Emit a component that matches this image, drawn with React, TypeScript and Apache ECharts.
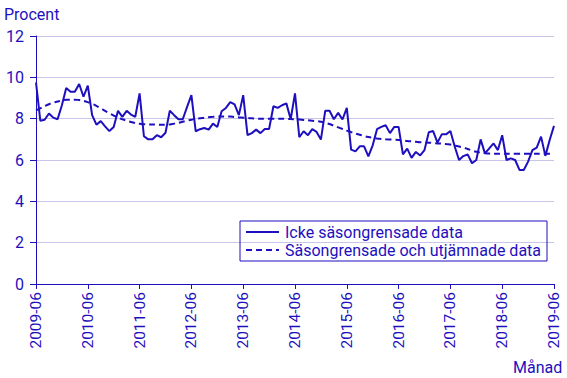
import React, { useEffect, useRef } from "react";
import * as echarts from "echarts";

const startYear = 2009;
const startMonth = 6;
const monthCount = 121;
const months: string[] = [];
for (let k = 0; k < monthCount; k++) {
  const m = startMonth - 1 + k;
  const y = startYear + Math.floor(m / 12);
  const mm = (m % 12) + 1;
  months.push(`${y}-${mm < 10 ? "0" + mm : mm}`);
}

const seriesNames = ["Icke säsongrensade data", "Säsongrensade och utjämnade data"];

const rawData = [
  9.75, 7.9, 7.95, 8.25, 8.05, 7.97, 8.65, 9.48, 9.3, 9.3, 9.68, 9.06,
  9.6, 8.17, 7.71, 7.88, 7.63, 7.4, 7.6, 8.38, 8.09, 8.38, 8.2, 8.09,
  9.22, 7.15, 7.0, 7.0, 7.2, 7.1, 7.32, 8.38, 8.17, 7.97, 7.97, 8.57,
  9.14, 7.39, 7.49, 7.55, 7.47, 7.76, 7.6, 8.36, 8.52, 8.8, 8.69, 8.17,
  9.14, 7.2, 7.3, 7.47, 7.3, 7.5, 7.5, 8.6, 8.52, 8.65, 8.74, 7.97,
  9.22, 7.1, 7.39, 7.2, 7.49, 7.36, 6.99, 8.38, 8.38, 7.97, 8.28, 7.96,
  8.52, 6.5, 6.42, 6.66, 6.66, 6.18, 6.71, 7.49, 7.6, 7.68, 7.3, 7.6,
  7.6, 6.27, 6.55, 6.1, 6.39, 6.22, 6.48, 7.34, 7.4, 6.84, 7.24, 7.24,
  7.4, 6.65, 6.0, 6.19, 6.27, 5.84, 6.0, 7.0, 6.32, 6.56, 6.8, 6.48,
  7.2, 6.0, 6.08, 6.0, 5.52, 5.52, 5.92, 6.48, 6.6, 7.13, 6.2, 6.97, 7.65,
];

const trendData = [
  8.4, 8.5, 8.6, 8.7, 8.77, 8.83, 8.88, 8.91, 8.92, 8.92, 8.9, 8.86,
  8.8, 8.72, 8.62, 8.5, 8.38, 8.26, 8.15, 8.05, 7.97, 7.9, 7.84, 7.79,
  7.75, 7.73, 7.72, 7.72, 7.71, 7.7, 7.7, 7.72, 7.76, 7.8, 7.85, 7.9,
  7.95, 7.99, 8.02, 8.05, 8.07, 8.09, 8.1, 8.1, 8.1, 8.1, 8.08, 8.06,
  8.05, 8.03, 8.02, 8.0, 8.0, 8.0, 8.0, 8.0, 8.0, 8.0, 7.99, 7.98,
  7.97, 7.96, 7.94, 7.92, 7.9, 7.88, 7.85, 7.8, 7.74, 7.66, 7.58, 7.5,
  7.42, 7.35, 7.28, 7.22, 7.16, 7.11, 7.07, 7.04, 7.02, 7.0, 6.99, 6.98,
  6.97, 6.95, 6.92, 6.9, 6.88, 6.86, 6.85, 6.84, 6.82, 6.8, 6.79, 6.77,
  6.75, 6.7, 6.65, 6.6, 6.53, 6.46, 6.4, 6.36, 6.33, 6.31, 6.3, 6.3,
  6.3, 6.3, 6.3, 6.3, 6.3, 6.3, 6.3, 6.3, 6.3, 6.3, 6.3, 6.3, 6.3,
];

const yTitle = "Procent";
const xTitle = "Månad";

const BLUE = "#1e0fbe";
const FONT = "Roboto";

export default function App() {
  const ref = useRef<HTMLDivElement>(null);
  useEffect(() => {
    if (!ref.current) return;
    document.body.style.margin = "0";
    const chart = echarts.init(ref.current, null, { renderer: "svg" });
    chart.setOption({
      animation: false,
      textStyle: { fontFamily: FONT },
      grid: { left: 36, right: 13, top: 36, bottom: 94, containLabel: false },
      graphic: [
        { type: "text", left: 4, top: 6, style: { text: yTitle, fill: BLUE, font: `16px ${FONT}` } },
        { type: "text", left: 513, top: 359, style: { text: xTitle, fill: BLUE, font: `16px ${FONT}` } },
      ],
      legend: {
        orient: "vertical",
        left: 240,
        top: 221,
        borderColor: BLUE,
        borderWidth: 1,
        padding: [3, 6, 3, 5],
        itemGap: 2,
        itemWidth: 33,
        itemHeight: 18,
        itemStyle: { opacity: 0 },
        textStyle: { color: BLUE, fontSize: 16, fontFamily: FONT, padding: [0, 0, 0, 1] },
        data: seriesNames,
      },
      xAxis: {
        type: "category",
        data: months,
        boundaryGap: false,
        axisLine: { lineStyle: { color: BLUE, width: 1 } },
        axisTick: { alignWithLabel: true, interval: 11, length: 5, lineStyle: { color: BLUE } },
        axisLabel: {
          interval: 11,
          rotate: 90,
          color: BLUE,
          fontSize: 15.5,
          fontFamily: FONT,
          margin: 8,
        },
        splitLine: { show: false },
      },
      yAxis: {
        type: "value",
        min: 0,
        max: 12,
        interval: 2,
        axisLine: { show: true, lineStyle: { color: BLUE, width: 1 } },
        axisTick: { show: true, length: 6, lineStyle: { color: BLUE } },
        axisLabel: { color: BLUE, fontSize: 16, fontFamily: FONT, margin: 12 },
        splitLine: { lineStyle: { color: "#c8c4ea", width: 1 } },
      },
      series: [
        {
          name: seriesNames[0],
          type: "line",
          data: rawData,
          symbol: "none",
          lineStyle: { color: BLUE, width: 2 },
          itemStyle: { color: BLUE },
        },
        {
          name: seriesNames[1],
          type: "line",
          data: trendData,
          symbol: "none",
          smooth: true,
          lineStyle: { color: BLUE, width: 2, type: [6, 4] },
          itemStyle: { color: BLUE },
        },
      ],
    });
    return () => chart.dispose();
  }, []);
  return <div ref={ref} style={{ width: 567, height: 378 }} />;
}
